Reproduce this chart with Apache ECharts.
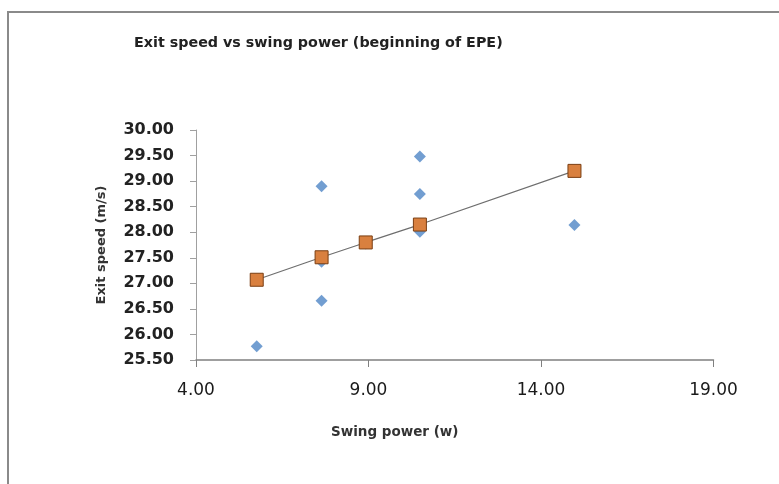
<!DOCTYPE html>
<html>
<head>
<meta charset="utf-8">
<script src="https://cdn.jsdelivr.net/npm/echarts@6/dist/echarts.min.js"></script>
<style>html,body{margin:0;padding:0;background:#fff}#c{width:779px;height:484px}</style>
</head>
<body>
<div id="c"></div>
<script>
// Observed exit speeds (blue diamonds): [swing power, exit speed]
const observedX = [5.76, 7.64, 7.64, 7.64, 8.92, 10.49, 10.49, 10.49, 14.97];
const observedY = [25.77, 28.90, 27.42, 26.66, 27.78, 29.48, 28.75, 28.01, 28.14];
// Fitted exit speeds (orange squares joined by a line)
const fitX = [5.76, 7.64, 8.92, 10.49, 14.97];
const fitY = [27.07, 27.51, 27.80, 28.15, 29.20];
// Axis ticks
const xTicks = [4, 9, 14, 19];
const yMin = 25.5, yMax = 30, yStep = 0.5;

const chart = echarts.init(document.getElementById('c'), null, {renderer: 'canvas'});
chart.setOption({
  backgroundColor: '#fff',
  animation: false,
  title: {
    text: 'Exit speed vs swing power (beginning of EPE)',
    left: 129, top: 31,
    textStyle: {fontFamily: 'DejaVu Sans', fontWeight: 'bold', fontSize: 14.3, color: '#222'}
  },
  graphic: [{
    type: 'rect', shape: {x: 8, y: 12, width: 800, height: 500},
    style: {fill: 'none', stroke: '#8a8a8a', lineWidth: 2}, silent: true
  }],
  grid: {left: 196, right: 65.5, top: 130, bottom: 124},
  xAxis: {
    type: 'value', min: xTicks[0], max: xTicks[xTicks.length - 1], interval: xTicks[1] - xTicks[0],
    name: 'Swing power (w)', nameLocation: 'middle', nameGap: 65,
    nameTextStyle: {fontFamily: 'DejaVu Sans', fontWeight: 'bold', fontSize: 13.5, color: '#333',
      padding: [0, 120, 0, 0]},
    axisLine: {lineStyle: {color: '#808080', width: 1.5}},
    axisTick: {show: true, length: 7, lineStyle: {color: '#808080'}},
    axisLabel: {fontFamily: 'DejaVu Sans', fontSize: 17, color: '#1a1a1a', margin: 22,
      formatter: v => v.toFixed(2)},
    splitLine: {show: false}
  },
  yAxis: {
    type: 'value', min: yMin, max: yMax, interval: yStep,
    name: 'Exit speed (m/s)', nameLocation: 'middle', nameGap: 88,
    nameTextStyle: {fontFamily: 'DejaVu Sans', fontWeight: 'bold', fontSize: 13, color: '#333'},
    axisLine: {show: true, lineStyle: {color: '#a0a0a0', width: 1}},
    axisTick: {show: true, length: 6, lineStyle: {color: '#a0a0a0'}},
    axisLabel: {fontFamily: 'DejaVu Sans', fontWeight: 'bold', fontSize: 16, color: '#222', margin: 22,
      formatter: v => v.toFixed(2)},
    splitLine: {show: false}
  },
  series: [
    {
      type: 'scatter',
      data: observedX.map((x, i) => [x, observedY[i]]),
      symbol: 'diamond', symbolSize: 12,
      itemStyle: {color: '#4f86c6'},
      z: 2
    },
    {
      type: 'line',
      data: fitX.map((x, i) => [x, fitY[i]]),
      symbol: 'rect', symbolSize: 13,
      lineStyle: {color: '#6e6e6e', width: 1.2},
      itemStyle: {color: '#d9803f', borderColor: '#7a3e12', borderWidth: 1},
      z: 3
    }
  ]
});
</script>
</body>
</html>
